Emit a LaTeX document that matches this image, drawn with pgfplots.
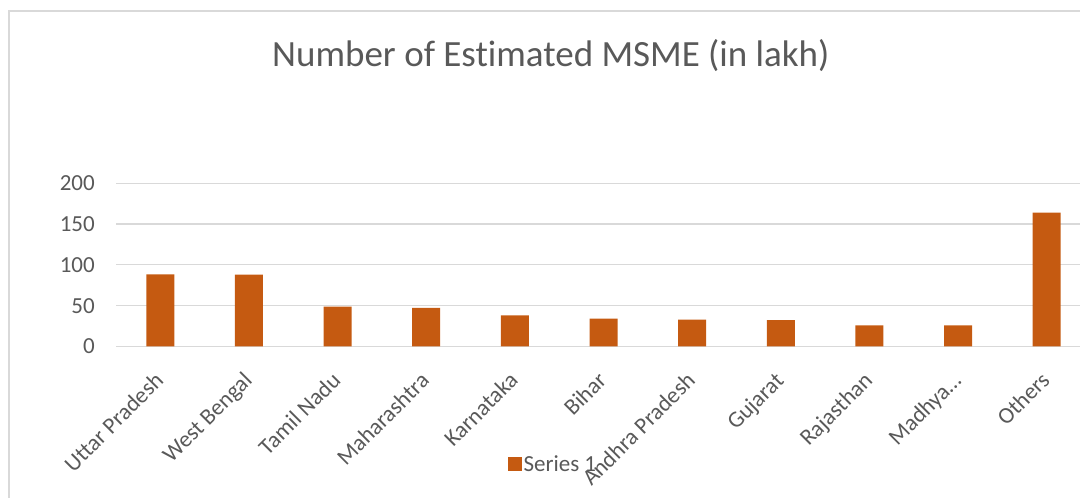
\documentclass[border=0pt]{standalone}
\usepackage{fontspec}
\setmainfont{Carlito}[Ligatures=NoCommon]
\usepackage{pgfplots}
\pgfplotsset{compat=1.18}
\definecolor{barc}{HTML}{C55A11}
\definecolor{txt}{HTML}{595959}
\definecolor{grd}{HTML}{D9D9D9}
\begin{document}
\begin{tikzpicture}
\path[use as bounding box] (0bp,0bp) rectangle (1080bp,498bp);
\clip (0bp,0bp) rectangle (1080bp,498bp);
\draw[grd, line width=1.2bp] (9bp,-5bp) -- (9bp,487bp) -- (1090bp,487bp);
\begin{axis}[
  at={(116bp,151.5bp)}, anchor=south west,
  scale only axis, width=975bp, height=163.2bp,
  xmin=-0.5, xmax=10.5, ymin=0, ymax=200,
  ytick={0,50,100,150,200},
  xtick={0,...,10},
  xticklabels={Uttar Pradesh,West Bengal,Tamil Nadu,Maharashtra,Karnataka,Bihar,Andhra Pradesh,Gujarat,Rajasthan,Madhya…,Others},
  major tick length=0pt,
  ymajorgrids, grid style={grd, line width=1.2bp},
  axis x line*=bottom, axis y line*=left,
  x axis line style={grd, line width=1.2bp},
  y axis line style={draw=none},
  /pgf/number format/assume math mode=true,
  tick label style={font=\fontsize{23bp}{27bp}\selectfont, text=txt},
  yticklabel style={anchor=east, inner sep=0pt, xshift=-21bp},
  xticklabel style={xshift=-7bp, yshift=-24bp, rotate=45, anchor=north east, inner sep=0pt},
  title={Number of Estimated MSME (in lakh)},
  title style={at={(axis description cs:0.446,1.749)}, anchor=center, font=\fontsize{37bp}{44bp}\selectfont, text=txt},
  legend style={draw=none, fill=none, at={(axis description cs:0.448,-0.72)}, anchor=center, font=\fontsize{23bp}{27bp}\selectfont, text=txt},
  legend image code/.code={\fill[barc] (0bp,-7bp) rectangle (14bp,7bp);},
  clip=false,
]
\addplot[ybar, bar width=28bp, fill=barc, draw=none] coordinates {
(0,88.5) (1,88.0) (2,48.8) (3,47.2) (4,38.0) (5,34.2) (6,33.0) (7,32.2) (8,26.0) (9,26.0) (10,164.0)
};
\legend{Series 1}
\end{axis}
\end{tikzpicture}
\end{document}
